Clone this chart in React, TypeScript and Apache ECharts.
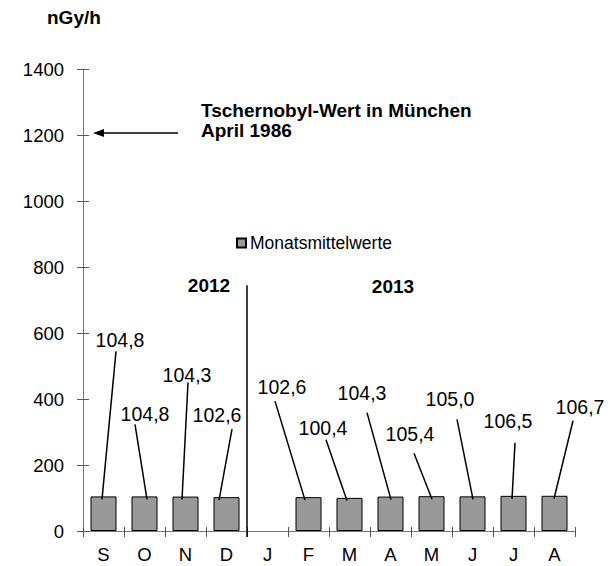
import React, { useEffect, useRef } from "react";
import * as echarts from "echarts";

const categories = ["S", "O", "N", "D", "J", "F", "M", "A", "M", "J", "J", "A"];
const monthlyMeans: (number | null)[] = [104.8, 104.8, 104.3, 102.6, null, 102.6, 100.4, 104.3, 105.4, 105.0, 106.5, 106.7];
const yTicks = { min: 0, max: 1400, interval: 200 };
const chernobylValue = 1200;
const seriesName = "Monatsmittelwerte";
const annotationLines = ["Tschernobyl-Wert in München", "April 1986"];
const yearLabels = ["2012", "2013"];

// label layout (pixel offsets relative to bar centre / bar top)
const labelDx = [16.5, 0.5, 1.5, -9.5, 0, -26.5, -26.5, -28.5, -21.5, -22.5, -5.5, 25.5];
const labelDy = [-156, -82, -122, -82, 0, -110, -70, -104, -62, -97, -75, -89];
const lineTopDx = [12.5, -9.5, 2.5, 5.5, 0, -33.5, -23.5, -23.5, -17.5, -15.5, 1.5, 18.5];
const lineTopDy = [-145, -72, -114, -68, 0, -96, -58, -84, -43, -77, -53, -75];
const lineBottomDx = [-1.5, 2.5, -3.5, -7.5, 0, -3.5, -2.5, 0.5, 0.5, 0.5, -1.5, -0.5];

const FONT = "'Liberation Sans', Arial, Helvetica, sans-serif";

export default function App() {
  const ref = useRef<HTMLDivElement>(null);
  useEffect(() => {
    if (!ref.current) return;
    const chart = echarts.init(ref.current, undefined, { renderer: "svg" });
    const labelData = monthlyMeans
      .map((v, i) => (v == null ? null : [i, v]))
      .filter((d) => d != null);
    const grid = { left: 83, right: 35, top: 69, bottom: 35 };
    const option: any = {
      animation: false,
      backgroundColor: "#ffffff",
      textStyle: { fontFamily: FONT },
      grid,
      legend: {
        data: [seriesName],
        left: 231,
        top: 229,
        icon: "rect",
        itemWidth: 9,
        itemHeight: 9,
        itemGap: 0,
        textStyle: { fontSize: 17.5, color: "#000", fontFamily: FONT, padding: [0, 0, 0, -1] },
        selectedMode: false,
      },
      xAxis: [
        {
          type: "category",
          data: categories,
          boundaryGap: true,
          axisLine: { lineStyle: { color: "#777", width: 1 } },
          axisTick: { show: true, length: 6, alignWithLabel: false, lineStyle: { color: "#555" } },
          axisLabel: { color: "#000", fontSize: 18.5, margin: 14, fontFamily: FONT },
          splitLine: { show: false },
        },
        {
          type: "category",
          data: categories,
          position: "bottom",
          offset: 0,
          boundaryGap: true,
          axisLine: { show: false },
          axisTick: { show: true, inside: true, length: 4, lineStyle: { color: "#555" } },
          axisLabel: { show: false },
          splitLine: { show: false },
        },
      ],
      yAxis: [
        {
          type: "value",
          min: yTicks.min,
          max: yTicks.max,
          interval: yTicks.interval,
          axisLine: { show: true, lineStyle: { color: "#777", width: 1 } },
          axisTick: { show: true, length: 6, lineStyle: { color: "#555" } },
          axisLabel: {
            color: "#000",
            fontSize: 18.5,
            margin: 19,
            fontFamily: FONT,
            formatter: (v: number) => String(v),
          },
          splitLine: { show: false },
        },
        {
          type: "value",
          position: "left",
          offset: 0,
          min: yTicks.min,
          max: yTicks.max,
          interval: yTicks.interval,
          axisLine: { show: false },
          axisTick: { show: true, inside: true, length: 6, lineStyle: { color: "#555" } },
          axisLabel: { show: false },
          splitLine: { show: false },
        },
      ],
      series: [
        {
          name: seriesName,
          type: "bar",
          data: monthlyMeans,
          barWidth: 26,
          itemStyle: { color: "#999999", borderColor: "#000", borderWidth: 1 },
          z: 2,
        },
        {
          type: "custom",
          data: labelData,
          encode: { x: 0, y: 1 },
          clip: false,
          silent: true,
          z: 5,
          renderItem: (params: any, api: any) => {
            const i = api.value(0);
            const v = api.value(1);
            const p = api.coord([i, v]);
            return {
              type: "group",
              children: [
                {
                  type: "line",
                  shape: {
                    x1: p[0] + lineBottomDx[i],
                    y1: p[1] + 3,
                    x2: p[0] + lineTopDx[i],
                    y2: p[1] + lineTopDy[i],
                  },
                  style: { stroke: "#000", lineWidth: 1.5 },
                },
                {
                  type: "text",
                  x: p[0] + labelDx[i],
                  y: p[1] + labelDy[i],
                  style: {
                    text: v.toFixed(1).replace(".", ","),
                    fill: "#000",
                    fontSize: 19.5,
                    fontFamily: FONT,
                    align: "center",
                    verticalAlign: "middle",
                  },
                },
              ],
            };
          },
        },
      ],
    };
    chart.setOption(option);

    const c3 = chart.convertToPixel({ xAxisIndex: 0 }, 3) as number;
    const c4 = chart.convertToPixel({ xAxisIndex: 0 }, 4) as number;
    const sepX = (c3 + c4) / 2;
    const y0 = chart.convertToPixel({ yAxisIndex: 0 }, 0) as number;
    const ySepTop = chart.convertToPixel({ yAxisIndex: 0 }, 745) as number;
    const yArrow = (chart.convertToPixel({ yAxisIndex: 0 }, chernobylValue) as number) - 2;
    const axisX = grid.left;

    chart.setOption({
      graphic: [
        {
          type: "text",
          left: 47,
          top: 8,
          style: { text: "nGy/h", font: `bold 19px ${FONT}`, fill: "#000" },
        },
        {
          type: "line",
          shape: { x1: sepX, y1: ySepTop, x2: sepX, y2: y0 + 6 },
          style: { stroke: "#000", lineWidth: 1.5 },
          z: 10,
        },
        {
          type: "line",
          shape: { x1: axisX + 18, y1: yArrow, x2: 178, y2: yArrow },
          style: { stroke: "#000", lineWidth: 1.5 },
        },
        {
          type: "polygon",
          shape: {
            points: [
              [axisX + 10, yArrow],
              [axisX + 21, yArrow - 4],
              [axisX + 21, yArrow + 4],
            ],
          },
          style: { fill: "#000" },
        },
        {
          type: "text",
          x: 201,
          y: 120,
          style: {
            text: annotationLines.join("\n"),
            font: `bold 19px ${FONT}`,
            lineHeight: 20,
            fill: "#000",
            verticalAlign: "middle",
          },
        },
        {
          type: "text",
          x: 209,
          y: 285,
          style: { text: yearLabels[0], font: `bold 19px ${FONT}`, fill: "#000", align: "center", verticalAlign: "middle" },
        },
        {
          type: "text",
          x: 393,
          y: 286,
          style: { text: yearLabels[1], font: `bold 19px ${FONT}`, fill: "#000", align: "center", verticalAlign: "middle" },
        },
      ],
    });

    return () => chart.dispose();
  }, []);
  return (
    <div
      ref={ref}
      style={{ position: "fixed", left: 0, top: 0, width: 610, height: 566, background: "#fff" }}
    />
  );
}
